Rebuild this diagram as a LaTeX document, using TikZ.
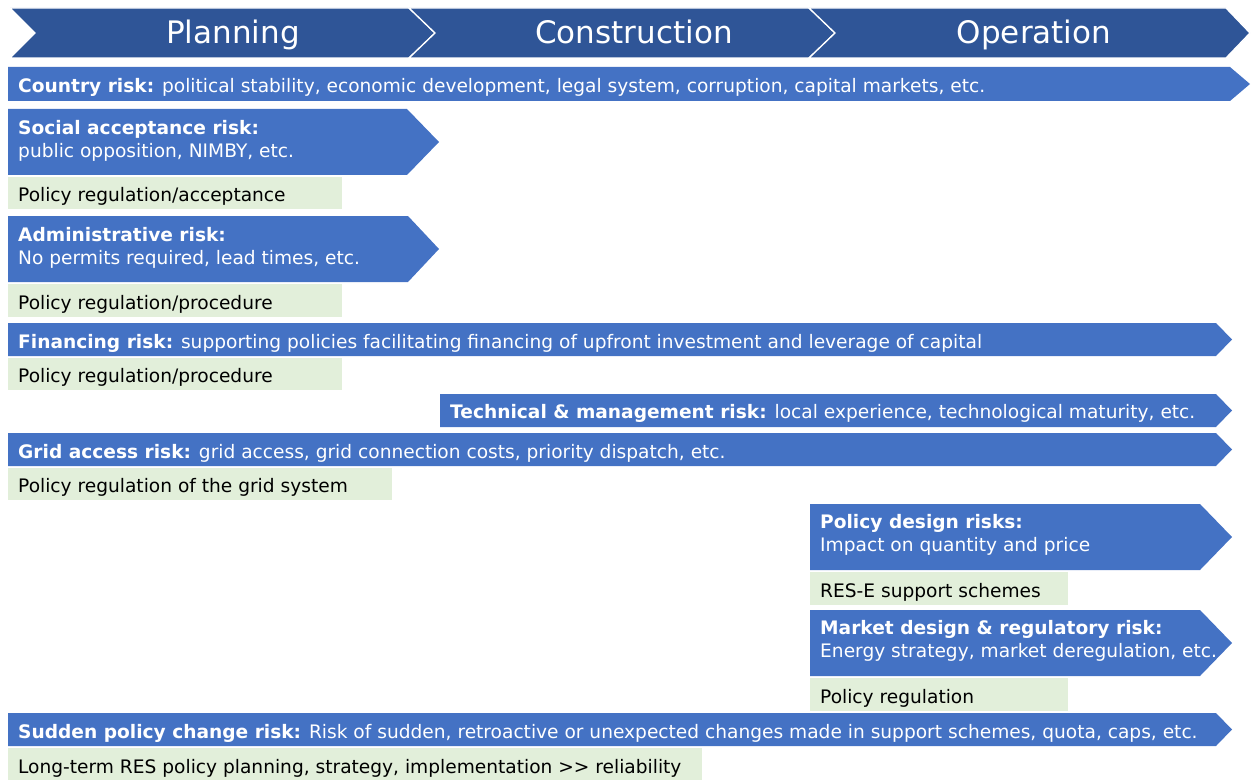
\documentclass[tikz,border=0pt]{standalone}
\usepackage{fontspec}
\setmainfont{DejaVu Sans}
\definecolor{phaseblue}{HTML}{2F5597}
\definecolor{riskblue}{HTML}{4472C4}
\definecolor{measuregreen}{HTML}{E2EFDA}
% pentagon arrow: left x, top y, base x of the point, tip x, bottom y
\newcommand\riskshape[5]{%
  \fill[riskblue] (#1,#2) -- (#3,#2) -- (#4,{(#2+#5)/2}) -- (#3,#5) -- (#1,#5) -- cycle;}
% plain box for the policy measure under a risk
\newcommand\measurebox[4]{%
  \fill[measuregreen] (#1,#2) rectangle (#3,#4);}
\begin{document}
\begin{tikzpicture}[x=1pt,y=-1pt,
  phase/.style={fill=phaseblue, draw=white, line width=1.3pt, line join=miter},
  phasetext/.style={text=white, anchor=base, inner sep=0pt, font=\fontsize{31}{36}\selectfont},
  risktext/.style={text=white, anchor=west, align=left, inner sep=0pt,
    font=\fontsize{18.6}{22.8}\selectfont},
  measuretext/.style={text=black, anchor=west, inner sep=0pt,
    font=\fontsize{18.6}{22}\selectfont}]
\useasboundingbox (0,0) rectangle (1251,781);

% project phases
\draw[phase] (10,8) -- (409,8) -- (435,33) -- (409,58) -- (10,58) -- (35,33) -- cycle;
\draw[phase] (409,8) -- (809,8) -- (835,33) -- (809,58) -- (409,58) -- (435,33) -- cycle;
\draw[phase] (809,8) -- (1226,8) -- (1250,33) -- (1226,58) -- (809,58) -- (835,33) -- cycle;
\node[phasetext] (planning) at (233,44) {Planning};
\node[phasetext] (construction) at (634,44) {Construction};
\node[phasetext] (operation) at (1034,44) {Operation};

% risks and the matching policy measures
\riskshape{8}{67}{1230}{1250}{101}
\node[risktext] (country) at (18,87) {\textbf{Country risk:} political stability, economic development, legal system, corruption, capital markets, etc.};

\riskshape{8}{109}{407}{439}{175}
\node[risktext] (social) at (18,140.5) {\textbf{Social acceptance risk:}\\public opposition, NIMBY, etc.};
\measurebox{8}{177}{342}{209}
\node[measuretext] (socialm) at (18,196) {Policy regulation/acceptance};

\riskshape{8}{216}{408}{439}{282}
\node[risktext] (admin) at (18,247.5) {\textbf{Administrative risk:}\\No permits required, lead times, etc.};
\measurebox{8}{284}{342}{317}
\node[measuretext] (adminm) at (18,304) {Policy regulation/procedure};

\riskshape{8}{323}{1216}{1232}{356}
\node[risktext] (financing) at (18,343) {\textbf{Financing risk:} supporting policies facilitating financing of upfront investment and leverage of capital};
\measurebox{8}{358}{342}{390}
\node[measuretext] (financingm) at (18,377) {Policy regulation/procedure};

\riskshape{440}{394}{1216}{1232}{427}
\node[risktext] (technical) at (450,413) {\textbf{Technical \& management risk:} local experience, technological maturity, etc.};

\riskshape{8}{433}{1216}{1232}{466}
\node[risktext] (grid) at (18,453) {\textbf{Grid access risk:} grid access, grid connection costs, priority dispatch, etc.};
\measurebox{8}{468}{392}{500}
\node[measuretext] (gridm) at (18,487) {Policy regulation of the grid system};

\riskshape{810}{504}{1200}{1232}{570}
\node[risktext] (policydesign) at (820,534.5) {\textbf{Policy design risks:}\\Impact on quantity and price};
\measurebox{810}{572}{1068}{605}
\node[measuretext] (policydesignm) at (820,592) {RES-E support schemes};

\riskshape{810}{610}{1200}{1232}{676}
\node[risktext] (market) at (820,641) {\textbf{Market design \& regulatory risk:}\\Energy strategy, market deregulation, etc.};
\measurebox{810}{678}{1068}{711}
\node[measuretext] (marketm) at (820,698) {Policy regulation};

\riskshape{8}{713}{1216}{1232}{746}
\node[risktext] (sudden) at (18,733) {\textbf{Sudden policy change risk:} Risk of sudden, retroactive or unexpected changes made in support schemes, quota, caps, etc.};
\measurebox{8}{748}{702}{780}
\node[measuretext] (suddenm) at (18,768) {Long-term RES policy planning, strategy, implementation >\kern0pt> reliability};
\end{tikzpicture}
\end{document}
